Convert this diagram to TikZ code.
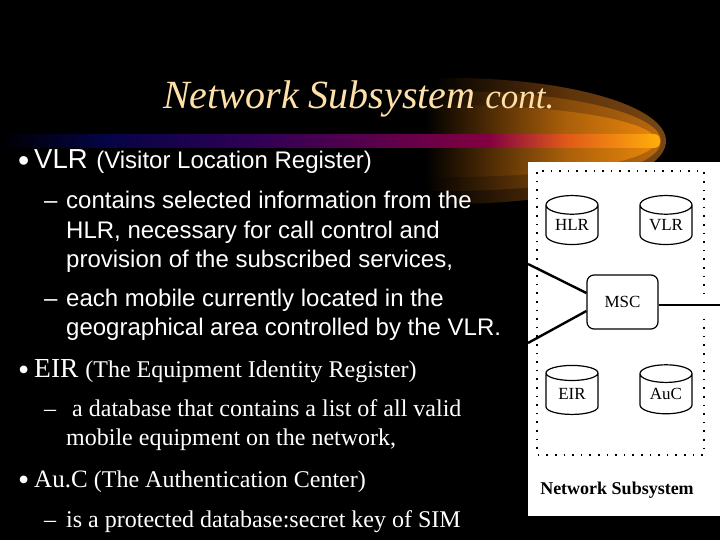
\documentclass[tikz,border=0pt]{standalone}
\usepackage{fontspec}
\setmainfont{Liberation Serif}
\newfontfamily\arialf{Liberation Sans}
\usetikzlibrary{shapes.geometric,calc}
\definecolor{titlepeach}{RGB}{255,224,168}
\definecolor{bara}{RGB}{4,4,70}
\definecolor{barb}{RGB}{50,0,85}
\definecolor{barc}{RGB}{130,0,65}
\definecolor{bard}{RGB}{225,90,25}
\definecolor{bare}{RGB}{255,175,10}
\definecolor{gla}{RGB}{95,52,10}
\definecolor{glb}{RGB}{120,70,20}
\definecolor{glc}{RGB}{135,75,10}
\definecolor{gld}{RGB}{185,105,15}
\definecolor{gle}{RGB}{170,95,10}
\definecolor{glf}{RGB}{235,135,10}
\pgfdeclarehorizontalshading{barshade}{100bp}{color(0bp)=(black);color(25bp)=(black);
 color(33bp)=(bara);color(45bp)=(barb);color(62bp)=(barc);color(68bp)=(bard);color(75bp)=(bare);color(100bp)=(bare)}
\pgfdeclarehorizontalshading{glowa}{100bp}{color(0bp)=(black);color(25bp)=(black);color(48bp)=(black);
 color(64bp)=(gla);color(75bp)=(glb);color(100bp)=(glb)}
\pgfdeclarehorizontalshading{glowb}{100bp}{color(0bp)=(black);color(25bp)=(black);color(47bp)=(black);
 color(64bp)=(glc);color(75bp)=(gld);color(100bp)=(gld)}
\pgfdeclarehorizontalshading{glowc}{100bp}{color(0bp)=(black);color(25bp)=(black);color(47bp)=(black);
 color(64bp)=(gle);color(75bp)=(glf);color(100bp)=(glf)}
\tikzset{
 x=1pt,y=-1pt,
 sa/.style={anchor=base west,inner sep=0pt,text=white,font=\arialf\fontsize{#1}{#1}\selectfont},
 se/.style={anchor=base west,inner sep=0pt,text=white,font=\fontsize{#1}{#1}\selectfont},
 dbase/.style={draw=black,line width=1.2pt,fill=white,text=black,cylinder,shape border rotate=90,aspect=0.55,
   minimum width=52pt,minimum height=49pt,inner sep=0pt,cylinder uses custom fill,cylinder body fill=white,cylinder end fill=white,
   font=\fontsize{17}{17}\selectfont},
 link/.style={draw=black,line width=2.4pt},
}
\begin{document}
\begin{tikzpicture}
\useasboundingbox (0,0) rectangle (720,540);
\fill[black] (0,0) rectangle (720,540);
% glow
\shade[shading=glowa] (450,141) ellipse [x radius=216,y radius=63];
\shade[shading=glowb] (450,141) ellipse [x radius=211,y radius=50];
\shade[shading=glowc] (450,141) ellipse [x radius=206,y radius=36];
% bar
\shade[shading=barshade,rounded corners=6pt] (-2,134) rectangle (660,148);
% title
\node[anchor=base west,inner sep=0pt,text=titlepeach] (title) at (163,109)
 {\fontsize{40}{40}\selectfont\itshape Network Subsystem \fontsize{35}{35}\selectfont cont.};
% panel
\fill[white] (528,162) rectangle (720,516);
\draw[black,line width=2.2pt,dash pattern=on 1.6pt off 7pt] (542,171) -- (704,171) -- (704,455) -- (537,455) -- (537,171) -- cycle;
\fill[white] (700,296) rectangle (710,314);
% nodes
\node[dbase] (hlr) at (572,225) {HLR};
\node[dbase] (vlr) at (666,225) {VLR};
\node[dbase] (eir) at (572,394) {EIR};
\node[dbase] (auc) at (666,394) {AuC};
\node[draw=black,line width=1.2pt,fill=white,rounded corners=7pt,minimum width=71pt,minimum height=54pt,inner sep=0pt,text=black,font=\fontsize{17}{17}\selectfont] (msc) at (622.5,302) {MSC};
\coordinate (l1) at (528,264);
\coordinate (l2) at (528,343);
\coordinate (r1) at (720,305);
\draw[link] (l1) -- (msc.west |- 0,293);
\draw[link] (l2) -- (msc.west |- 0,311);
\draw[link] (msc.east |- r1) -- (r1);
\node[anchor=center,inner sep=0pt,text=black,font=\bfseries\fontsize{18}{18}\selectfont] (cap) at (617,490) {Network Subsystem};
% text
\node[sa=32] (b1) at (18,172) {•};
\node[anchor=base west,inner sep=0pt,text=white] (t1) at (34,169) {\arialf\fontsize{27.5}{27.5}\selectfont VLR \fontsize{24}{24}\selectfont\hspace{1pt}(Visitor Location Register)};
\node[sa=24] (d1) at (44,209) {–};
\node[sa=24] (t2) at (66,209) {contains selected information from the};
\node[sa=24] (t3) at (66,238) {HLR, necessary for call control and};
\node[sa=24] (t4) at (66,267) {provision of the subscribed services,};
\node[sa=24] (d2) at (44,306) {–};
\node[sa=24] (t5) at (66,306) {each mobile currently located in the};
\node[sa=24] (t6) at (66,335) {geographical area controlled by the VLR.};
\node[se=32] (b2) at (18,380) {•};
\node[anchor=base west,inner sep=0pt,text=white] (t7) at (34,377) {\fontsize{27.5}{27.5}\selectfont EIR \fontsize{24}{24}\selectfont (The Equipment Identity Register)};
\node[se=24] (d3) at (44,416) {–};
\node[se=24] (t8) at (72,416) {a database that contains a list of all valid};
\node[se=24] (t9) at (66,445) {mobile equipment on the network,};
\node[se=32] (b3) at (18,490) {•};
\node[anchor=base west,inner sep=0pt,text=white] (t10) at (34,487) {\fontsize{25}{25}\selectfont Au.C \fontsize{24}{24}\selectfont (The Authentication Center)};
\node[se=24] (d4) at (44,527) {–};
\node[se=24] (t11) at (66,527) {is a protected database:secret key of SIM};
\end{tikzpicture}
\end{document}
